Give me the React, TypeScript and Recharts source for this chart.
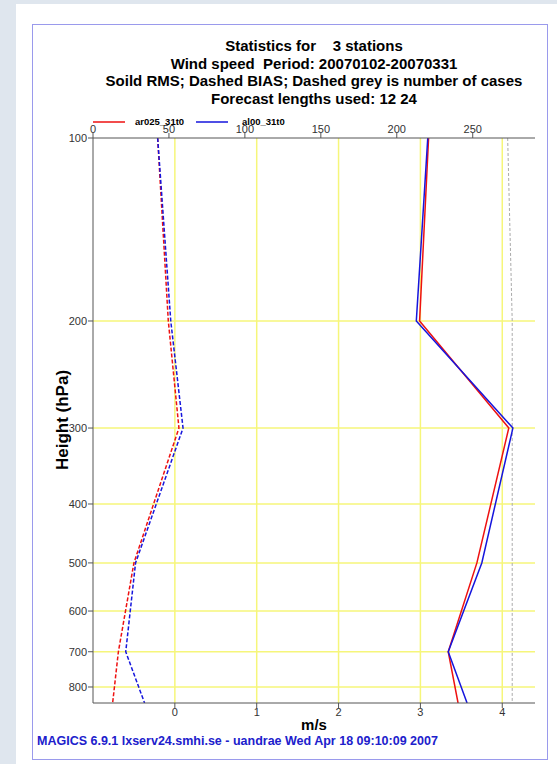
import React from 'react';
import { LineChart, Line, XAxis, YAxis, CartesianGrid } from 'recharts';

const levels = [100, 200, 300, 500, 700, 850];
const rmsAr025 = [3.1, 2.99, 4.08, 3.69, 3.34, 3.46];
const rmsAl00 = [3.09, 2.95, 4.13, 3.75, 3.34, 3.57];
const biasAr025 = [-0.21, -0.08, 0.05, -0.5, -0.69, -0.76];
const biasAl00 = [-0.21, -0.05, 0.1, -0.48, -0.6, -0.37];
const cases = [273, 276, 276, 276, 276, 276];

const pressureTicks = [100, 200, 300, 400, 500, 600, 700, 800];
const gridPressures = [200, 300, 400, 500, 600, 700, 800];
const speedTicks = [0, 1, 2, 3, 4];
const caseTicks = [0, 50, 100, 150, 200, 250];
const seriesNames = ['ar025_31t0', 'al00_31t0'];
const titleLines = [
  'Statistics for    3 stations',
  'Wind speed  Period: 20070102-20070331',
  'Soild RMS; Dashed BIAS; Dashed grey is number of cases',
  'Forecast lengths used: 12 24',
];
const footer = 'MAGICS 6.9.1 lxserv24.smhi.se - uandrae Wed Apr 18 09:10:09 2007';

const data = levels.map((p, i) => ({
  p,
  rmsA: rmsAr025[i],
  rmsB: rmsAl00[i],
  biasA: biasAr025[i],
  biasB: biasAl00[i],
  n: cases[i],
}));

const RED = '#ee1111';
const BLUE = '#1515dd';
const FONT = '"Liberation Sans", Arial, Helvetica, sans-serif';
const tickStyle = { fontSize: 11, fill: '#333', fontFamily: FONT };

export default function App() {
  return (
    <div style={{ position: 'absolute', left: 0, top: 0, width: 557, height: 764, background: '#dfe6ee', fontFamily: FONT, overflow: 'hidden' }}>
      <div style={{ position: 'absolute', left: 16, top: 4, right: 0, bottom: 0, background: '#fff' }} />
      <div style={{ position: 'absolute', left: 32, top: 24, width: 516, height: 736, boxSizing: 'border-box', border: '1.5px solid #9a9aec' }} />
      {titleLines.map((t, i) => (
        <div key={i} style={{ position: 'absolute', left: 14, width: 600, top: 37 + i * 17.7, textAlign: 'center', fontWeight: 'bold', fontSize: 15, lineHeight: '18px', color: '#000', whiteSpace: 'pre' }}>{t}</div>
      ))}
      <div style={{ position: 'absolute', left: 0, top: 0 }}>
        <LineChart layout="vertical" width={557} height={764} data={data} margin={{ top: 118, right: 22, bottom: 31, left: 0 }}>
          <CartesianGrid xAxisId="bottom" yAxisId="left" stroke="#f6f67a" strokeWidth={1.5}
            horizontalValues={gridPressures} verticalValues={speedTicks} />
          <XAxis xAxisId="bottom" orientation="bottom" type="number" domain={[-1, 4.4]} ticks={speedTicks} allowDataOverflow interval={0} height={30}
            axisLine={{ stroke: '#555' }} tickLine={{ stroke: '#555' }} tick={tickStyle} tickSize={5} tickMargin={0} />
          <XAxis xAxisId="top" orientation="top" type="number" domain={[0, 291]} ticks={caseTicks} allowDataOverflow interval={0} height={20}
            axisLine={{ stroke: '#555' }} tickLine={{ stroke: '#555' }} tick={tickStyle} tickSize={5} tickMargin={0} />
          <YAxis yAxisId="left" type="number" dataKey="p" scale="log" domain={[100, 850]} ticks={pressureTicks} allowDataOverflow interval={0} width={93}
            axisLine={{ stroke: '#555' }} tickLine={{ stroke: '#555' }} tick={tickStyle} tickSize={5} tickMargin={1} />
          <YAxis yAxisId="right" orientation="right" type="number" dataKey="p" domain={[100, 850]} allowDataOverflow width={0} tick={false} tickLine={false}
            axisLine={{ stroke: '#555' }} />
          <Line xAxisId="top" yAxisId="left" dataKey="n" stroke="#aaaaaa" strokeWidth={1} strokeDasharray="3 2" dot={false} isAnimationActive={false} />
          <Line xAxisId="bottom" yAxisId="left" dataKey="biasA" stroke={RED} strokeWidth={1.5} strokeDasharray="4 2" dot={false} isAnimationActive={false} />
          <Line xAxisId="bottom" yAxisId="left" dataKey="biasB" stroke={BLUE} strokeWidth={1.5} strokeDasharray="4 2" dot={false} isAnimationActive={false} />
          <Line xAxisId="bottom" yAxisId="left" dataKey="rmsA" stroke={RED} strokeWidth={1.5} dot={false} isAnimationActive={false} />
          <Line xAxisId="bottom" yAxisId="left" dataKey="rmsB" stroke={BLUE} strokeWidth={1.5} dot={false} isAnimationActive={false} />
        </LineChart>
      </div>
      {/* legend */}
      <svg style={{ position: 'absolute', left: 0, top: 110 }} width={300} height={20}>
        <line x1={93} x2={125} y1={12} y2={12} stroke={RED} strokeWidth={1.5} />
        <line x1={196} x2={228} y1={12} y2={12} stroke={BLUE} strokeWidth={1.5} />
      </svg>
      <div style={{ position: 'absolute', left: 135, top: 116, fontSize: 9.5, fontWeight: 'bold', lineHeight: '11px', color: '#000' }}>{seriesNames[0]}</div>
      <div style={{ position: 'absolute', left: 242, top: 116, fontSize: 9.5, fontWeight: 'bold', lineHeight: '11px', color: '#000' }}>{seriesNames[1]}</div>
      {/* axis titles */}
      <div style={{ position: 'absolute', left: 63, top: 420, transform: 'translate(-50%, -50%) rotate(-90deg)', fontSize: 17, fontWeight: 'bold', whiteSpace: 'nowrap', color: '#000' }}>Height (hPa)</div>
      <div style={{ position: 'absolute', left: 314, top: 724, transform: 'translate(-50%, -50%)', fontSize: 15, lineHeight: '15px', fontWeight: 'bold', color: '#000' }}>m/s</div>
      <div style={{ position: 'absolute', left: 37, top: 734, fontSize: 12.5, fontWeight: 'bold', lineHeight: '14px', color: '#2020cc', whiteSpace: 'pre' }}>{footer}</div>
    </div>
  );
}
